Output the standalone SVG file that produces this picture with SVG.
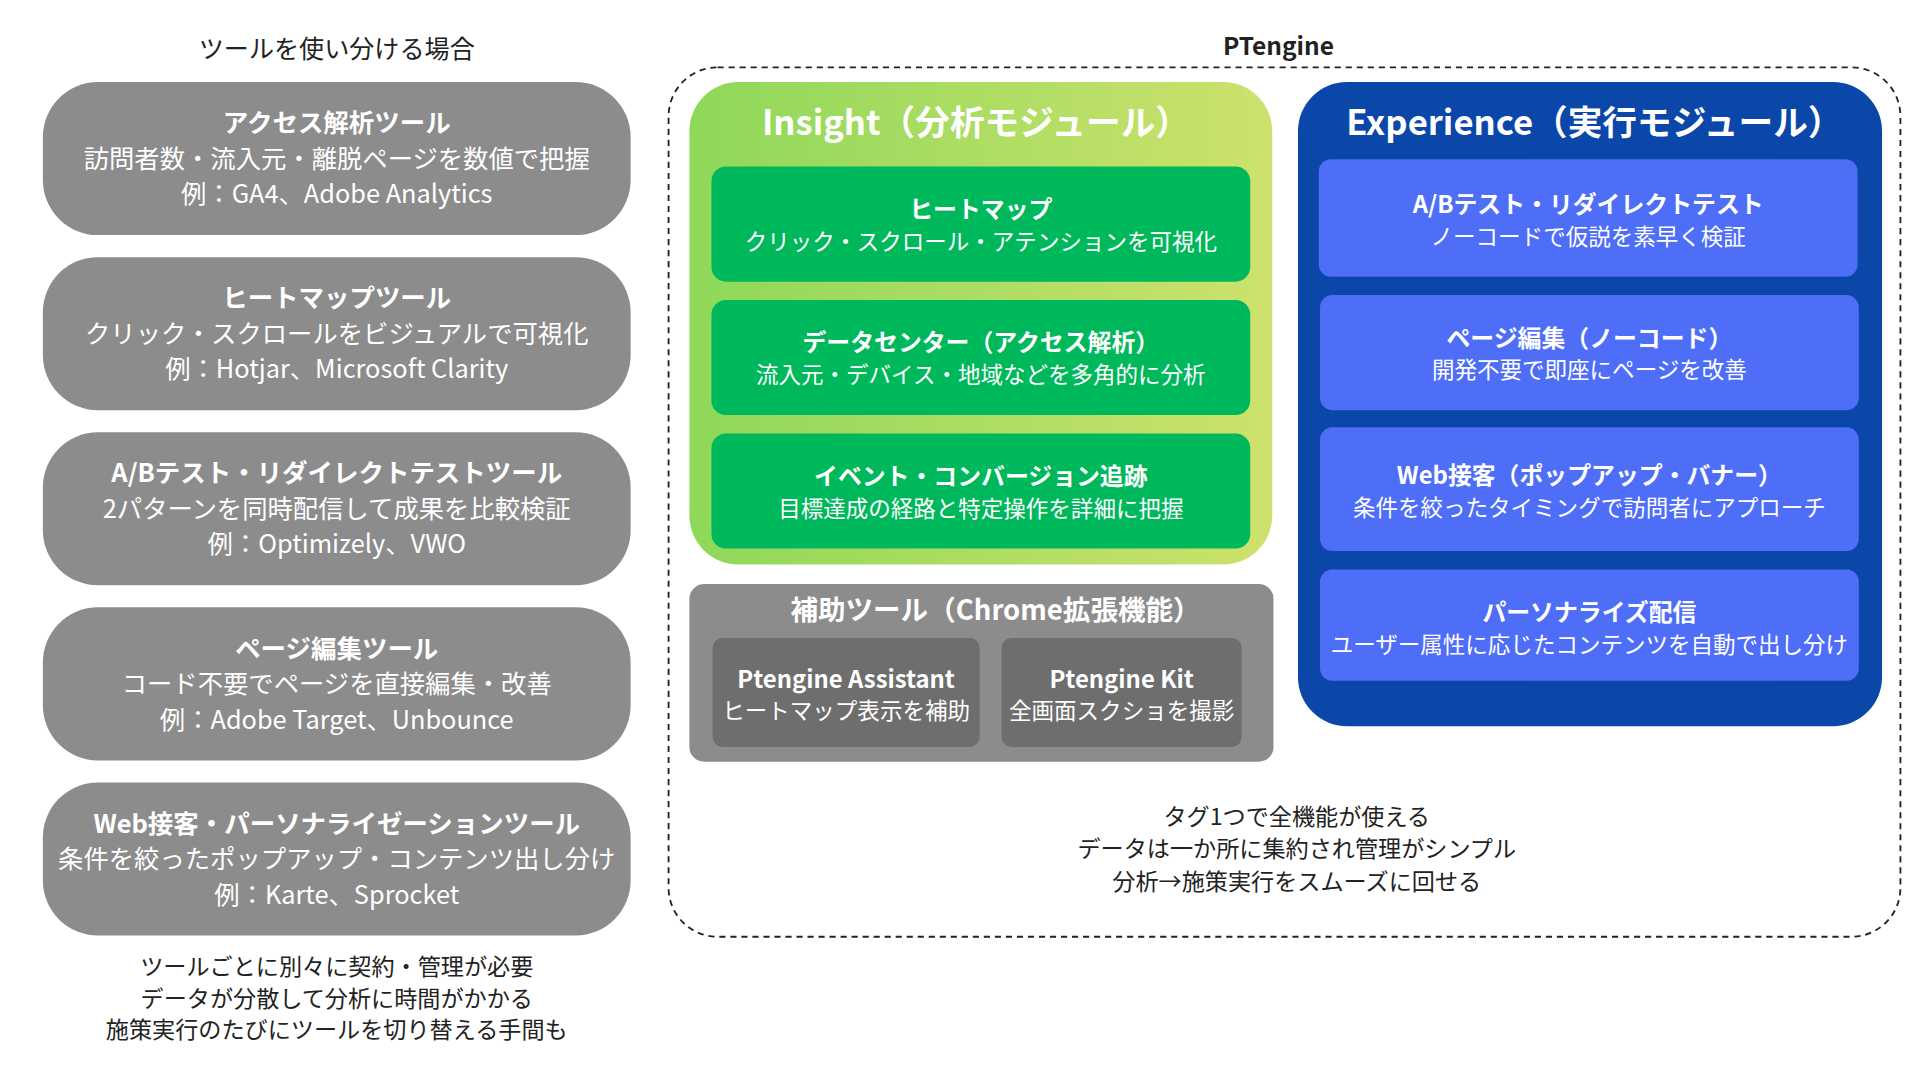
<svg xmlns="http://www.w3.org/2000/svg" width="1920" height="1080" viewBox="0 0 1920 1080">
<defs>
<style>
text{font-family:"Noto Sans CJK JP","Noto Sans",sans-serif;text-anchor:middle}
.w{fill:#fff}.d{fill:#222}
.t{font-weight:bold;font-size:20.8px}
.s{font-size:20.7px}
.gb{fill:#8c8c8c}
.in{fill:#00b85c}
.bl{fill:#4f6ef7}
.big{font-weight:bold;font-size:28.3px;fill:#fff}
.st{font-size:18.4px}
.tt{font-weight:bold;font-size:19.5px}
</style>
<linearGradient id="g" x1="0" y1="0" x2="1" y2="0"><stop offset="0" stop-color="#8ed85a"/><stop offset="1" stop-color="#cde26c"/></linearGradient>
</defs>
<rect width="1920" height="1080" fill="#fff"/>
<g transform="scale(1.2245)">
<text x="275" y="47" class="d" font-size="20.5">ツールを使い分ける場合</text>
<g id="n1"><rect x="35" y="67" width="480" height="125" rx="45" class="gb"/>
<text x="275" y="108" class="w t">アクセス解析ツール</text><text x="275" y="137" class="w s">訪問者数・流入元・離脱ページを数値で把握</text><text x="275" y="166" class="w s">例：GA4、Adobe Analytics</text></g>
<g id="n2"><rect x="35" y="210" width="480" height="125" rx="45" class="gb"/>
<text x="275" y="251" class="w t">ヒートマップツール</text><text x="275" y="280" class="w s">クリック・スクロールをビジュアルで可視化</text><text x="275" y="309" class="w s">例：Hotjar、Microsoft Clarity</text></g>
<g id="n3"><rect x="35" y="353" width="480" height="125" rx="45" class="gb"/>
<text x="275" y="394" class="w t">A/Bテスト・リダイレクトテストツール</text><text x="275" y="423" class="w s">2パターンを同時配信して成果を比較検証</text><text x="275" y="452" class="w s">例：Optimizely、VWO</text></g>
<g id="n4"><rect x="35" y="496" width="480" height="125" rx="45" class="gb"/>
<text x="275" y="537" class="w t">ページ編集ツール</text><text x="275" y="566" class="w s">コード不要でページを直接編集・改善</text><text x="275" y="595" class="w s">例：Adobe Target、Unbounce</text></g>
<g id="n5"><rect x="35" y="639" width="480" height="125" rx="45" class="gb"/>
<text x="275" y="680" class="w t">Web接客・パーソナライゼーションツール</text><text x="275" y="709" class="w s">条件を絞ったポップアップ・コンテンツ出し分け</text><text x="275" y="738" class="w s">例：Karte、Sprocket</text></g>
<g id="leftnote" class="d" font-size="18.9"><text x="275" y="796">ツールごとに別々に契約・管理が必要</text><text x="275" y="822">データが分散して分析に時間がかかる</text><text x="275" y="848">施策実行のたびにツールを切り替える手間も</text></g>
<g id="pt"><rect x="546" y="55" width="1006" height="710" rx="40" fill="none" stroke="#222" stroke-width="1.5" stroke-dasharray="5,4"/>
<text x="1044" y="45" class="d" font-weight="bold" font-size="20">PTengine</text></g>
<g id="insight"><rect x="563" y="67" width="476" height="394" rx="40" fill="url(#g)"/>
<text x="797" y="110" class="big">Insight（分析モジュール）</text></g>
<g id="i1"><rect x="581" y="136" width="440" height="94" rx="12" class="in"/><text x="801" y="178" class="w tt">ヒートマップ</text><text x="801" y="204" class="w st">クリック・スクロール・アテンションを可視化</text></g>
<g id="i2"><rect x="581" y="245" width="440" height="94" rx="12" class="in"/><text x="801" y="287" class="w tt">データセンター（アクセス解析）</text><text x="801" y="313" class="w st">流入元・デバイス・地域などを多角的に分析</text></g>
<g id="i3"><rect x="581" y="354" width="440" height="94" rx="12" class="in"/><text x="801" y="396" class="w tt">イベント・コンバージョン追跡</text><text x="801" y="422" class="w st">目標達成の経路と特定操作を詳細に把握</text></g>
<g id="aux"><rect x="563" y="477" width="477" height="145" rx="12" class="gb"/><text x="813" y="506" class="w" font-weight="bold" font-size="22.5">補助ツール（Chrome拡張機能）</text></g>
<g id="a1"><rect x="582" y="521" width="218" height="89" rx="8" fill="#6e6e6e"/><text x="691" y="562" class="w tt">Ptengine Assistant</text><text x="691" y="587" class="w st">ヒートマップ表示を補助</text></g>
<g id="a2"><rect x="818" y="521" width="196" height="89" rx="8" fill="#6e6e6e"/><text x="916" y="562" class="w tt">Ptengine Kit</text><text x="916" y="587" class="w st">全画面スクショを撮影</text></g>
<g id="exp"><rect x="1060" y="67" width="477" height="526" rx="40" fill="#0a47a8"/><text x="1302" y="110" class="big">Experience（実行モジュール）</text></g>
<g id="e1"><rect x="1077" y="130" width="440" height="96" rx="10" class="bl"/><text x="1297" y="174" class="w tt">A/Bテスト・リダイレクトテスト</text><text x="1297" y="200" class="w st">ノーコードで仮説を素早く検証</text></g>
<g id="e2"><rect x="1078" y="241" width="440" height="94" rx="10" class="bl"/><text x="1298" y="283" class="w tt">ページ編集（ノーコード）</text><text x="1298" y="309" class="w st">開発不要で即座にページを改善</text></g>
<g id="e3"><rect x="1078" y="349" width="440" height="101" rx="10" class="bl"/><text x="1298" y="395" class="w tt">Web接客（ポップアップ・バナー）</text><text x="1298" y="421" class="w st">条件を絞ったタイミングで訪問者にアプローチ</text></g>
<g id="e4"><rect x="1078" y="465" width="440" height="91" rx="10" class="bl"/><text x="1298" y="507" class="w tt">パーソナライズ配信</text><text x="1298" y="533" class="w st">ユーザー属性に応じたコンテンツを自動で出し分け</text></g>
<g id="note" class="d" font-size="18.9"><text x="1059" y="674">タグ1つで全機能が使える</text><text x="1059" y="700">データは一か所に集約され管理がシンプル</text><text x="1059" y="727">分析→施策実行をスムーズに回せる</text></g>
<g id="connectors"/>
</g>
</svg>
